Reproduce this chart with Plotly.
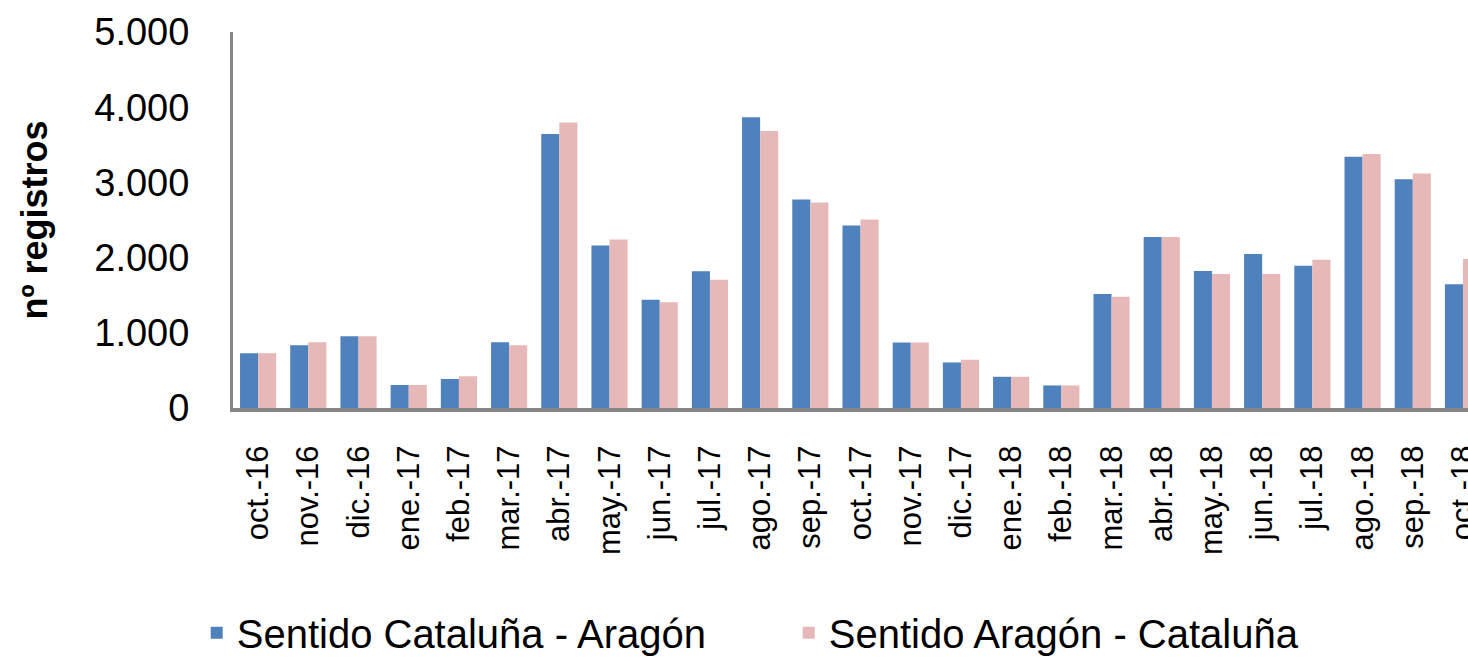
import plotly.graph_objects as go

months = ["oct.-16", "nov.-16", "dic.-16", "ene.-17", "feb.-17", "mar.-17", "abr.-17",
          "may.-17", "jun.-17", "jul.-17", "ago.-17", "sep.-17", "oct.-17", "nov.-17",
          "dic.-17", "ene.-18", "feb.-18", "mar.-18", "abr.-18", "may.-18", "jun.-18",
          "jul.-18", "ago.-18", "sep.-18", "oct.-18"]

cat_ara = [727, 835, 955, 306, 386, 875, 3642, 2160, 1441, 1818, 3868, 2772, 2426, 872,
           606, 415, 300, 1515, 2274, 1822, 2048, 1893, 3340, 3041, 1644]
ara_cat = [727, 875, 955, 306, 422, 835, 3798, 2240, 1405, 1707, 3682, 2732, 2506, 872,
           642, 415, 300, 1480, 2274, 1782, 1782, 1973, 3378, 3117, 1981]

y_ticks = [0, 1000, 2000, 3000, 4000, 5000]
y_tick_text = ["0", "1.000", "2.000", "3.000", "4.000", "5.000"]

FONT = "Liberation Sans, Arial, sans-serif"

fig = go.Figure()
fig.add_trace(go.Bar(x=list(range(len(months))), y=cat_ara, name="Sentido Cataluña - Aragón",
                     marker=dict(color="#4F81BD", line=dict(width=0))))
fig.add_trace(go.Bar(x=list(range(len(months))), y=ara_cat, name="Sentido Aragón - Cataluña",
                     marker=dict(color="#E6B9B8", line=dict(width=0))))

fig.update_layout(
    width=1468, height=659,
    margin=dict(l=233, r=0, t=32, b=251, autoexpand=False),
    barmode="group", bargap=0.28, bargroupgap=0,
    plot_bgcolor="white", paper_bgcolor="white",
    font=dict(family=FONT, color="black"),
    legend=dict(orientation="h", xref="container", yref="container",
                x=0.134, xanchor="left", y=0.04, yanchor="middle",
                font=dict(size=40, family=FONT), itemwidth=30,
                entrywidth=547, entrywidthmode="pixels", traceorder="normal"),
    xaxis=dict(range=[-0.5, 24.1], tickmode="array", tickvals=list(range(len(months))),
               ticktext=months, tickangle=-90, tickfont=dict(size=31),
               showline=True, linecolor="#868686", linewidth=4, ticks="",
               showgrid=False, ticklabelstandoff=21, ticklabeloverflow="allow",
               automargin=False, fixedrange=True),
    yaxis=dict(range=[0, 5000], tickmode="array", tickvals=y_ticks, ticktext=y_tick_text,
               tickfont=dict(size=38), showline=True, linecolor="#868686", linewidth=3,
               ticks="", showgrid=False, zeroline=False, ticklabelstandoff=33,
               automargin=False,
               title=dict(text="<b>nº registros</b>", font=dict(size=36), standoff=36)),
)

fig.write_html("out.html", config={"displayModeBar": False},
               post_script="document.body.style.margin='0';")
